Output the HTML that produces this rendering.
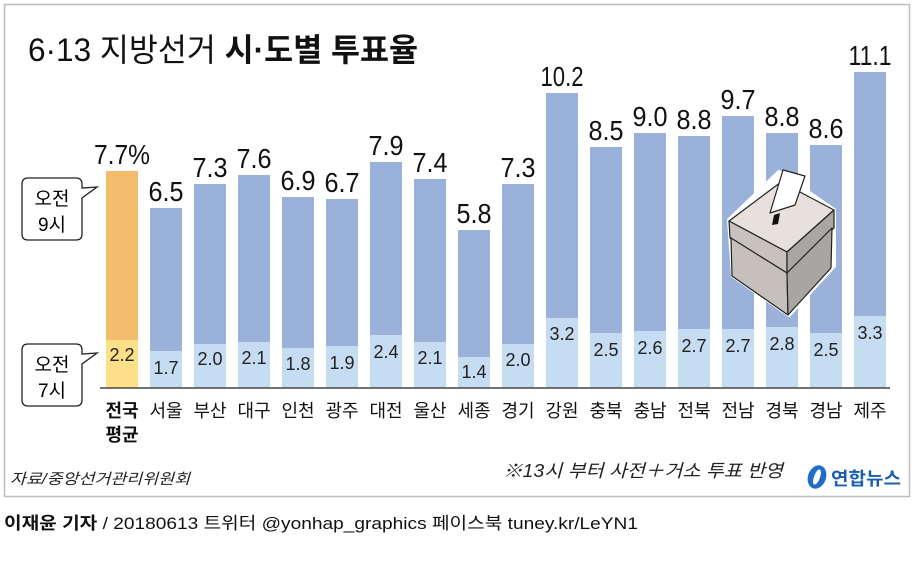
<!DOCTYPE html>
<html><head><meta charset="utf-8"><style>
html,body{margin:0;padding:0;background:#fff;}
svg{display:block;}
text{font-family:"Liberation Sans","Noto Sans CJK KR",sans-serif;}
</style></head><body>
<svg width="914" height="583" viewBox="0 0 914 583" xmlns="http://www.w3.org/2000/svg">
<rect x="4.5" y="4.5" width="905" height="492" fill="#fff" stroke="#bdbdbd" stroke-width="1.5"/>
<text x="28" y="61" font-size="32" textLength="390" lengthAdjust="spacingAndGlyphs" fill="#111">6·13 지방선거 <tspan font-weight="bold">시·도별 투표율</tspan></text>

<rect x="106" y="171" width="32" height="169" fill="#f3bd6d"/><rect x="106" y="340" width="32" height="48" fill="#fde089"/>
<g fill="#9ab1da">
<rect x="150" y="208" width="32" height="143"/>
<rect x="194" y="184" width="32" height="160"/>
<rect x="238" y="175" width="32" height="167"/>
<rect x="282" y="197" width="32" height="151"/>
<rect x="326" y="199" width="32" height="147"/>
<rect x="370" y="162" width="32" height="173"/>
<rect x="414" y="179" width="32" height="163"/>
<rect x="458" y="230" width="32" height="127"/>
<rect x="502" y="184" width="32" height="160"/>
<rect x="546" y="93" width="32" height="225"/>
<rect x="590" y="147" width="32" height="186"/>
<rect x="634" y="133" width="32" height="198"/>
<rect x="678" y="136" width="32" height="193"/>
<rect x="722" y="116" width="32" height="213"/>
<rect x="766" y="133" width="32" height="194"/>
<rect x="810" y="145" width="32" height="188"/>
<rect x="854" y="72" width="32" height="244"/>
</g>
<g fill="#c5dcf2">
<rect x="150" y="351" width="32" height="37"/>
<rect x="194" y="344" width="32" height="44"/>
<rect x="238" y="342" width="32" height="46"/>
<rect x="282" y="348" width="32" height="40"/>
<rect x="326" y="346" width="32" height="42"/>
<rect x="370" y="335" width="32" height="53"/>
<rect x="414" y="342" width="32" height="46"/>
<rect x="458" y="357" width="32" height="31"/>
<rect x="502" y="344" width="32" height="44"/>
<rect x="546" y="318" width="32" height="70"/>
<rect x="590" y="333" width="32" height="55"/>
<rect x="634" y="331" width="32" height="57"/>
<rect x="678" y="329" width="32" height="59"/>
<rect x="722" y="329" width="32" height="59"/>
<rect x="766" y="327" width="32" height="61"/>
<rect x="810" y="333" width="32" height="55"/>
<rect x="854" y="316" width="32" height="72"/>
</g>
<line x1="100" y1="388" x2="890" y2="388" stroke="#444" stroke-width="1.5"/>

<g font-size="28" text-anchor="middle" fill="#111" lengthAdjust="spacingAndGlyphs">
<text x="122" y="164" textLength="56" lengthAdjust="spacingAndGlyphs">7.7%</text>
<text x="166" y="201" textLength="35" lengthAdjust="spacingAndGlyphs">6.5</text>
<text x="210" y="177" textLength="35" lengthAdjust="spacingAndGlyphs">7.3</text>
<text x="254" y="168" textLength="35" lengthAdjust="spacingAndGlyphs">7.6</text>
<text x="298" y="190" textLength="35" lengthAdjust="spacingAndGlyphs">6.9</text>
<text x="342" y="192" textLength="35" lengthAdjust="spacingAndGlyphs">6.7</text>
<text x="386" y="155" textLength="35" lengthAdjust="spacingAndGlyphs">7.9</text>
<text x="430" y="172" textLength="35" lengthAdjust="spacingAndGlyphs">7.4</text>
<text x="474" y="223" textLength="35" lengthAdjust="spacingAndGlyphs">5.8</text>
<text x="518" y="177" textLength="35" lengthAdjust="spacingAndGlyphs">7.3</text>
<text x="562" y="86" textLength="43" lengthAdjust="spacingAndGlyphs">10.2</text>
<text x="606" y="140" textLength="35" lengthAdjust="spacingAndGlyphs">8.5</text>
<text x="650" y="126" textLength="35" lengthAdjust="spacingAndGlyphs">9.0</text>
<text x="694" y="129" textLength="35" lengthAdjust="spacingAndGlyphs">8.8</text>
<text x="738" y="109" textLength="35" lengthAdjust="spacingAndGlyphs">9.7</text>
<text x="782" y="126" textLength="35" lengthAdjust="spacingAndGlyphs">8.8</text>
<text x="826" y="138" textLength="35" lengthAdjust="spacingAndGlyphs">8.6</text>
<text x="870" y="65" textLength="43" lengthAdjust="spacingAndGlyphs">11.1</text>
</g>
<g font-size="18" text-anchor="middle" fill="#222">
<text x="122" y="361">2.2</text>
<text x="166" y="374">1.7</text>
<text x="210" y="365">2.0</text>
<text x="254" y="364">2.1</text>
<text x="298" y="370">1.8</text>
<text x="342" y="369">1.9</text>
<text x="386" y="358">2.4</text>
<text x="430" y="364">2.1</text>
<text x="474" y="378">1.4</text>
<text x="518" y="366">2.0</text>
<text x="562" y="340">3.2</text>
<text x="606" y="356">2.5</text>
<text x="650" y="354">2.6</text>
<text x="694" y="352">2.7</text>
<text x="738" y="352">2.7</text>
<text x="782" y="350">2.8</text>
<text x="826" y="356">2.5</text>
<text x="870" y="339">3.3</text>
</g>
<g font-size="18" text-anchor="middle" fill="#111">
<text x="122" y="417" font-weight="bold">전국</text>
<text x="122" y="441" font-weight="bold">평균</text>
<text x="166" y="417">서울</text><text x="210" y="417">부산</text><text x="254" y="417">대구</text>
<text x="298" y="417">인천</text><text x="342" y="417">광주</text><text x="386" y="417">대전</text>
<text x="430" y="417">울산</text><text x="474" y="417">세종</text><text x="518" y="417">경기</text>
<text x="562" y="417">강원</text><text x="606" y="417">충북</text><text x="650" y="417">충남</text>
<text x="694" y="417">전북</text><text x="738" y="417">전남</text><text x="782" y="417">경북</text>
<text x="826" y="417">경남</text><text x="870" y="417">제주</text>
</g>

<path d="M28 178 H76 Q82 178 82 184 V188 L97 187 L82 198 V234 Q82 240 76 240 H28 Q22 240 22 234 V184 Q22 178 28 178 Z" fill="#fff" stroke="#222" stroke-width="1.3"/>
<text x="52" y="205" font-size="19" text-anchor="middle">오전</text>
<text x="52" y="231" font-size="19" text-anchor="middle">9시</text>
<path d="M28 344 H76 Q82 344 82 350 V354 L97 353 L82 364 V400 Q82 406 76 406 H28 Q22 406 22 400 V350 Q22 344 28 344 Z" fill="#fff" stroke="#222" stroke-width="1.3"/>
<text x="52" y="371" font-size="19" text-anchor="middle">오전</text>
<text x="52" y="397" font-size="19" text-anchor="middle">7시</text>

<g stroke="#fff" stroke-width="4" stroke-linejoin="round">
<path d="M729 220 L779 172 L834 210 L834 266 L789 315 L733 276 Z" fill="#fff"/>
</g>
<g stroke="#222" stroke-width="1.2" stroke-linejoin="round">
<polygon points="729,221 781,182 834,210 787,252" fill="#e6e1dc"/>
<polygon points="729,221 787,252 787,273 730,238" fill="#c7c2bd"/>
<polygon points="787,252 834,210 834,228 787,273" fill="#a9a6a3"/>
<polygon points="731,238 787,273 788,315 732,276" fill="#c5c0bb"/>
<polygon points="787,273 832,228 831,268 788,315" fill="#a8a5a2"/>
<polygon points="783,170 805,176 795,205 770,213" fill="#fff"/>
</g>
<polygon points="774,215 780,213 778,224 772,225" fill="#111"/>

<text x="10" y="484" font-size="15" font-style="italic" fill="#222" textLength="180" lengthAdjust="spacingAndGlyphs">자료/중앙선거관리위원회</text>
<text x="503" y="477" font-size="18" font-style="italic" fill="#222" textLength="280" lengthAdjust="spacingAndGlyphs">※13시 부터 사전＋거소 투표 반영</text>
<ellipse cx="817" cy="477" rx="9" ry="12" fill="#1f6fc8" transform="rotate(20 817 477)"/>
<ellipse cx="817" cy="477" rx="3" ry="8" fill="#fff" transform="rotate(20 817 477)"/>
<text x="831" y="485" font-size="18" font-weight="bold" fill="#1b5fae" textLength="70" lengthAdjust="spacingAndGlyphs">연합뉴스</text>
<text x="4" y="529" font-size="17" fill="#111" textLength="634" lengthAdjust="spacingAndGlyphs"><tspan font-weight="bold">이재윤 기자</tspan> / 20180613   트위터 @yonhap_graphics  페이스북 tuney.kr/LeYN1</text>
</svg>
</body></html>
